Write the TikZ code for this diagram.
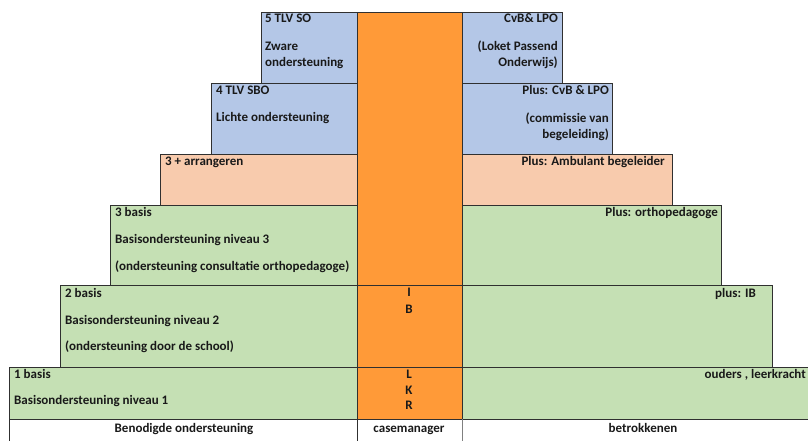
\documentclass[tikz,border=0pt]{standalone}
\usepackage{fontspec}
\setmainfont{Carlito}
\definecolor{cblue}{HTML}{B4C7E7}
\definecolor{cpeach}{HTML}{F8CBAD}
\definecolor{cgreen}{HTML}{C5E0B4}
\definecolor{corange}{HTML}{FF9A38}
\definecolor{cline}{HTML}{303030}
\tikzset{
  cell/.style={draw=cline, line width=0.9pt},
  ltxt/.style={anchor=mid west, inner sep=0pt, font=\fontsize{13}{15}\selectfont\bfseries, text=black!90},
  rtxt/.style={anchor=mid east, inner sep=0pt, font=\fontsize{13}{15}\selectfont\bfseries, text=black!90},
  ctxt/.style={anchor=mid, inner sep=0pt, font=\fontsize{13}{15}\selectfont\bfseries, text=black!90}
}
\begin{document}
\begin{tikzpicture}[x=1pt,y=-1pt]
\useasboundingbox (0,0) rectangle (808,441);
% left boxes
\filldraw[cell, fill=cblue] (261,12) rectangle (357,83);
\filldraw[cell, fill=cblue] (211,83) rectangle (357,154);
\filldraw[cell, fill=cpeach] (160,154) rectangle (357,205);
\filldraw[cell, fill=cgreen] (110,205) rectangle (357,285);
\filldraw[cell, fill=cgreen] (60,285) rectangle (357,367);
\filldraw[cell, fill=cgreen] (9,367) rectangle (357,419);
% right boxes
\filldraw[cell, fill=cblue] (462,12) rectangle (562,83);
\filldraw[cell, fill=cblue] (462,83) rectangle (612,154);
\filldraw[cell, fill=cpeach] (462,154) rectangle (672,205);
\filldraw[cell, fill=cgreen] (462,205) rectangle (721,285);
\filldraw[cell, fill=cgreen] (462,285) rectangle (772,367);
\filldraw[cell, fill=cgreen] (462,367) rectangle (812,419);
% center column
\filldraw[cell, fill=corange] (357,12) rectangle (462,285);
\filldraw[cell, fill=corange] (357,285) rectangle (462,367);
\filldraw[cell, fill=corange] (357,367) rectangle (462,419);
% bottom row
\draw[cell] (9,419) -- (9,445);
\draw[cell] (357,419) -- (357,445);
\draw[draw=gray, line width=0.9pt] (462,419) -- (462,445);
% left texts
\node[ltxt] (l5a) at (265,20) {5 TLV SO};
\node[ltxt] (l5b) at (265,48) {Zware};
\node[ltxt] (l5c) at (265,64) {ondersteuning};
\node[ltxt] (l4a) at (216,92) {4 TLV SBO};
\node[ltxt] (l4b) at (216,119) {Lichte ondersteuning};
\node[ltxt] (l3pa) at (165,163) {3 + arrangeren};
\node[ltxt] (l3a) at (115,214) {3 basis};
\node[ltxt] (l3b) at (115,241) {Basisondersteuning niveau 3};
\node[ltxt] (l3c) at (115,268) {(ondersteuning consultatie orthopedagoge)};
\node[ltxt] (l2a) at (65,295) {2 basis};
\node[ltxt] (l2b) at (65,322) {Basisondersteuning niveau 2};
\node[ltxt] (l2c) at (65,348) {(ondersteuning door de school)};
\node[ltxt] (l1a) at (14,376) {1 basis};
\node[ltxt] (l1b) at (14,402) {Basisondersteuning niveau 1};
% right texts
\node[rtxt] (r5a) at (558,20) {CvB\& LPO};
\node[rtxt] (r5b) at (558,48) {(Loket Passend};
\node[rtxt] (r5c) at (558,64) {Onderwijs)};
\node[rtxt] (r4a) at (609,92) {Plus: CvB \& LPO};
\node[rtxt] (r4b) at (609,120) {(commissie van};
\node[rtxt] (r4c) at (609,136) {begeleiding)};
\node[rtxt] (r3pa) at (665,163) {Plus: Ambulant begeleider};
\node[rtxt] (r3a) at (718,214) {Plus: orthopedagoge};
\node[rtxt] (r2a) at (756,295) {plus: IB};
\node[rtxt] (r1a) at (806,376) {ouders , leerkracht};
% center texts
\node[ctxt] (cI) at (409,294) {I};
\node[ctxt] (cB) at (409,311) {B};
\node[ctxt] (cL) at (409,376) {L};
\node[ctxt] (cK) at (409,392) {K};
\node[ctxt] (cR) at (409,407) {R};
% bottom texts
\node[ctxt] (b1) at (184,430) {Benodigde ondersteuning};
\node[ctxt] (b2) at (409,430) {casemanager};
\node[ctxt] (b3) at (643,430) {betrokkenen};
\end{tikzpicture}
\end{document}
